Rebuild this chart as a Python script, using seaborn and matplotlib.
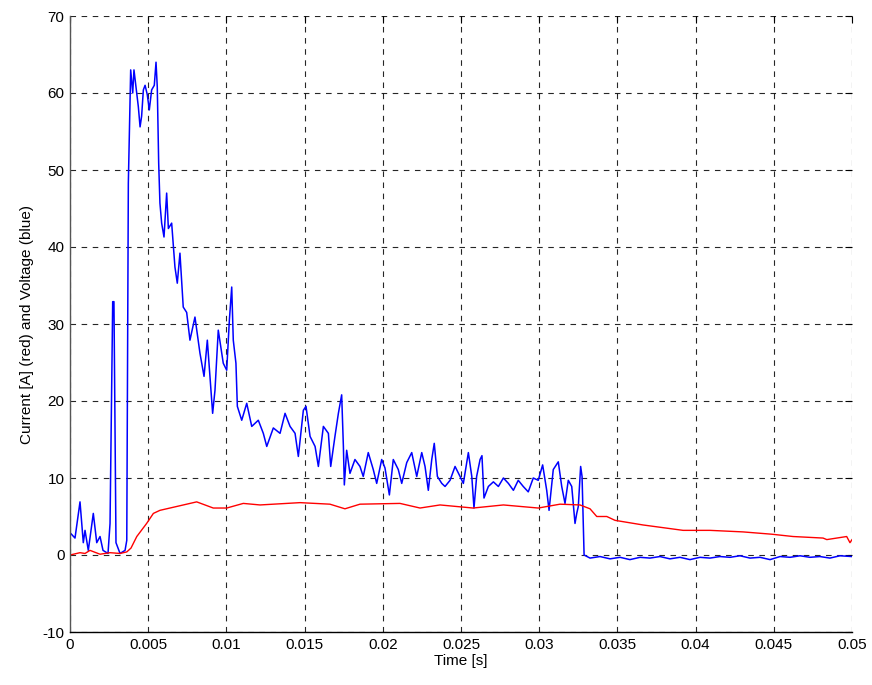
import matplotlib
matplotlib.use("Agg")
import matplotlib.pyplot as plt
import seaborn as sns
import pandas as pd

# ---- data ----
volt_t = [0.0, 0.00032, 0.00064, 0.00085, 0.00096, 0.00117, 0.00149, 0.00171, 0.00192,
          0.00211, 0.00243, 0.00256, 0.00273, 0.00281, 0.00294, 0.0032, 0.00352, 0.00363,
          0.00373, 0.00388, 0.00401, 0.00409, 0.00422, 0.00437, 0.00448, 0.00458, 0.00469,
          0.0048, 0.00494, 0.00507, 0.00522, 0.00539, 0.0055, 0.00558, 0.00567, 0.00575,
          0.00586, 0.00601, 0.00618, 0.00629, 0.0065, 0.00671, 0.00686, 0.00703, 0.00724,
          0.00746, 0.00767, 0.00799, 0.00831, 0.00857, 0.00878, 0.00912, 0.00927, 0.00948,
          0.0098, 0.01002, 0.01019, 0.01034, 0.01044, 0.01061, 0.0107, 0.01098, 0.0113,
          0.01162, 0.01204, 0.01236, 0.01258, 0.013, 0.01343, 0.01375, 0.01407, 0.01439,
          0.0146, 0.01492, 0.01509, 0.01535, 0.01567, 0.01588, 0.0162, 0.01652, 0.01667,
          0.01694, 0.01716, 0.01737, 0.01748, 0.01754, 0.01769, 0.0179, 0.01822, 0.01854,
          0.01875, 0.01907, 0.01939, 0.01961, 0.01993, 0.02014, 0.02042, 0.02067, 0.02099,
          0.02121, 0.02153, 0.02185, 0.02217, 0.02249, 0.0227, 0.02291, 0.02313, 0.02329,
          0.02349, 0.02377, 0.02398, 0.0243, 0.02462, 0.02494, 0.02515, 0.02547, 0.02569,
          0.02583, 0.026, 0.02622, 0.02634, 0.02647, 0.02675, 0.02707, 0.02739, 0.02771,
          0.02803, 0.02835, 0.02866, 0.02898, 0.0293, 0.02962, 0.02994, 0.03022, 0.03048,
          0.03063, 0.0309, 0.03122, 0.03144, 0.03165, 0.03186, 0.03208, 0.03229, 0.0324,
          0.0325, 0.03265, 0.03274, 0.03282, 0.03287, 0.03325, 0.03389, 0.03453, 0.03517,
          0.0358, 0.03645, 0.03708, 0.03772, 0.03836, 0.039, 0.03964, 0.04028, 0.04092,
          0.04156, 0.0422, 0.04284, 0.04348, 0.04412, 0.04476, 0.0454, 0.04604, 0.04668,
          0.04731, 0.04795, 0.04859, 0.04923, 0.05]
volt_v = [2.9, 2.2, 6.9, 1.6, 3.2, 0.6, 5.4, 1.6, 2.4,
          0.6, 0.2, 4.1, 32.9, 32.9, 1.6, 0.2, 0.6, 1.9,
          48.3, 63.0, 60.0, 63.0, 60.8, 58.2, 55.6, 57.0, 60.4,
          61.0, 59.8, 57.8, 60.4, 61.0, 64.0, 60.8, 50.9, 45.7,
          43.1, 41.3, 47.0, 42.4, 43.1, 37.4, 35.3, 39.2, 32.2,
          31.5, 27.9, 30.9, 26.2, 23.2, 27.9, 18.4, 21.4, 29.2,
          24.9, 24.0, 30.5, 34.8, 27.9, 24.9, 19.3, 17.5, 19.7,
          16.7, 17.5, 15.8, 14.1, 16.5, 15.8, 18.4, 16.7, 15.8,
          12.8, 18.8, 19.3, 15.4, 14.1, 11.5, 16.7, 15.8, 11.5,
          15.4, 18.4, 20.8, 14.1, 9.1, 13.6, 10.6, 12.4, 11.5,
          10.2, 13.3, 11.1, 9.3, 12.4, 11.3, 7.8, 12.4, 11.1,
          9.3, 12.0, 13.3, 10.2, 13.3, 11.5, 8.4, 12.4, 14.5,
          10.2, 9.3, 8.9, 9.7, 11.5, 10.2, 9.3, 13.3, 10.2,
          6.1, 10.2, 12.4, 12.9, 7.4, 8.9, 9.5, 8.9, 10.0,
          9.3, 8.4, 9.7, 8.9, 8.2, 10.0, 9.7, 11.7, 8.4,
          5.8, 11.1, 12.1, 8.9, 6.7, 9.7, 8.9, 4.1, 5.4,
          6.3, 11.5, 10.2, 4.0, 0.0, -0.4, -0.2, -0.5, -0.3,
          -0.6, -0.3, -0.4, -0.2, -0.5, -0.3, -0.6, -0.3, -0.4,
          -0.2, -0.3, -0.1, -0.4, -0.3, -0.6, -0.2, -0.3, -0.1,
          -0.3, -0.2, -0.4, -0.1, -0.2]

curr_t = [0.0, 0.00064, 0.00096, 0.00128, 0.00192, 0.00256, 0.0032, 0.00363, 0.0039,
          0.00427, 0.0049, 0.00533, 0.00575, 0.00682, 0.0081, 0.00916, 0.01002, 0.01108,
          0.01215, 0.01471, 0.01662, 0.01758, 0.01854, 0.0211, 0.02238, 0.02366, 0.02577,
          0.02771, 0.02994, 0.03133, 0.03261, 0.03325, 0.03368, 0.03432, 0.03485, 0.03664,
          0.0392, 0.04092, 0.04303, 0.04487, 0.04623, 0.04815, 0.04839, 0.04966, 0.04987,
          0.05]
curr_v = [0.0, 0.3, 0.2, 0.6, 0.1, 0.3, 0.2, 0.4, 0.9,
          2.4, 4.1, 5.4, 5.8, 6.3, 6.9, 6.1, 6.1, 6.7,
          6.5, 6.8, 6.6, 6.0, 6.6, 6.7, 6.1, 6.5, 6.1,
          6.5, 6.1, 6.6, 6.5, 6.0, 5.0, 5.0, 4.5, 3.9,
          3.2, 3.2, 3.0, 2.7, 2.4, 2.2, 2.0, 2.4, 1.6,
          2.0]

x_ticks = [0, 0.005, 0.01, 0.015, 0.02, 0.025, 0.03, 0.035, 0.04, 0.045, 0.05]
x_tick_labels = ["0", "0.005", "0.01", "0.015", "0.02", "0.025", "0.03", "0.035", "0.04", "0.045", "0.05"]
y_ticks = [-10, 0, 10, 20, 30, 40, 50, 60, 70]
y_tick_labels = ["-10", "0", "10", "20", "30", "40", "50", "60", "70"]

# ---- plotting ----
sns.set_style("white")
plt.rcParams["font.family"] = ["Liberation Sans", "DejaVu Sans"]
plt.rcParams["axes.unicode_minus"] = False

fig = plt.figure(figsize=(8.72, 6.85), dpi=100)
ax = fig.add_axes([70 / 872, 53 / 685, 782 / 872, 616 / 685])

df_v = pd.DataFrame({"t": volt_t, "v": volt_v})
df_c = pd.DataFrame({"t": curr_t, "v": curr_v})
sns.lineplot(data=df_v, x="t", y="v", ax=ax, color="#0000ff", linewidth=1.1,
             estimator=None, sort=False)
sns.lineplot(data=df_c, x="t", y="v", ax=ax, color="#ff0000", linewidth=1.0,
             estimator=None, sort=False)

ax.set_xlim(0, 0.05)
ax.set_ylim(-10, 70)
ax.set_xticks(x_ticks)
ax.set_xticklabels(x_tick_labels)
ax.set_yticks(y_ticks)
ax.set_yticklabels(y_tick_labels)
ax.tick_params(axis="both", direction="in", length=5, labelsize=11, color="black",
               labelcolor="black", top=True, right=True, pad=4)
ax.grid(True, color="black", linestyle=(0, (5, 5)), linewidth=0.8, alpha=0.85)
for side in ["top", "right"]:
    ax.spines[side].set_visible(False)
ax.spines["bottom"].set_color("black")
ax.spines["left"].set_color("#555555")
ax.spines["bottom"].set_linewidth(1.0)
ax.spines["left"].set_linewidth(1.0)
ax.set_xlabel("Time [s]", fontsize=11, labelpad=2, color="black")
ax.set_ylabel("Current [A] (red) and Voltage (blue)", fontsize=11, labelpad=6, color="black")

fig.savefig("out.png", dpi=100)
